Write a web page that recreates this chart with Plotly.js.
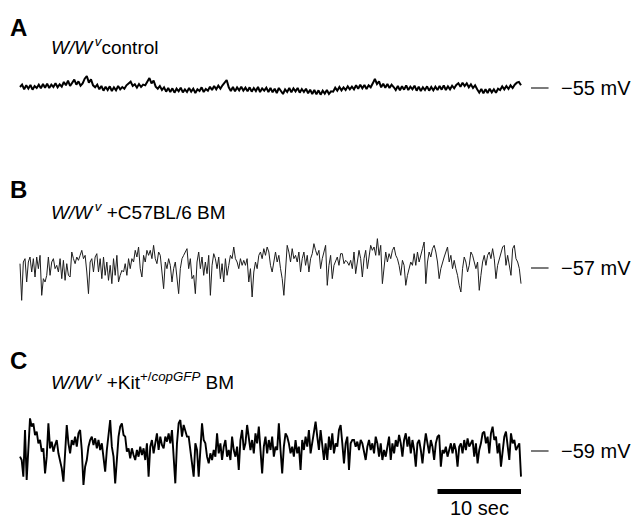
<!DOCTYPE html>
<html>
<head>
<meta charset="utf-8">
<script src="https://cdn.plot.ly/plotly-3.0.1.min.js"></script>
<style>
html,body{margin:0;padding:0;background:#fff;}
#chart{width:633px;height:518px;}
</style>
</head>
<body>
<div id="chart"></div>
<script>
// ---- Data (membrane potential, mV) ----
var panelLetters = ["A", "B", "C"];
var restingMv = [-55, -57, -59];
var sampleStepSec = [0.25, 0.2, 0.2];
var scaleBarSec = 10;

// A: W/Wv control
var ctrlMv = [
-54.85,-54.5,-55.2,-54.6,-55.1,-54.55,-55.25,-54.7,-55.0,-54.5,
-55.05,-54.4,-54.95,-54.35,-55.0,-54.5,-54.85,-54.3,-54.9,-54.45,
-54.8,-54.1,-54.6,-53.9,-54.7,-54.2,-53.75,-54.5,-54.0,-54.65,
-54.3,-53.6,-53.2,-54.2,-53.7,-54.6,-54.9,-54.5,-55.2,-54.7,
-55.4,-54.8,-55.3,-54.75,-55.45,-54.9,-55.35,-54.7,-55.2,-54.85,
-55.1,-54.6,-54.3,-54.05,-54.7,-54.45,-54.95,-54.4,-54.85,-54.5,
-54.6,-54.0,-53.5,-54.3,-53.9,-54.8,-55.1,-54.7,-55.3,-54.9,
-55.55,-55.0,-55.6,-55.05,-55.7,-55.1,-55.5,-54.95,-55.65,-55.2,
-55.6,-55.0,-55.55,-55.1,-55.75,-55.2,-55.45,-54.9,-55.6,-55.15,
-55.4,-54.8,-55.3,-54.7,-55.2,-54.65,-55.1,-54.6,-54.2,-53.8,
-54.9,-55.45,-54.85,-55.5,-54.9,-55.35,-54.8,-55.4,-54.95,-55.5,
-54.9,-55.55,-55.0,-55.45,-54.85,-55.6,-55.05,-55.4,-54.95,-55.6,
-55.0,-55.65,-55.1,-55.75,-55.0,-55.5,-55.9,-55.2,-55.6,-55.0,
-55.65,-55.05,-55.5,-55.0,-55.7,-55.15,-55.6,-55.1,-55.8,-55.25,
-55.9,-55.3,-55.95,-55.35,-56.0,-55.4,-55.85,-55.3,-55.9,-55.5,
-55.55,-54.95,-55.4,-54.85,-55.35,-54.9,-55.3,-54.75,-55.2,-54.8,
-55.2,-54.6,-55.1,-54.5,-55.05,-54.55,-55.15,-54.6,-54.9,-54.3,
-53.65,-54.4,-54.0,-54.9,-54.35,-54.95,-54.4,-55.0,-54.5,-54.85,
-55.3,-54.7,-55.35,-54.75,-55.25,-54.6,-55.3,-54.8,-55.2,-54.65,
-55.4,-54.8,-55.45,-54.9,-55.3,-54.75,-55.4,-54.85,-55.35,-54.8,
-55.3,-54.7,-55.25,-54.6,-55.3,-54.75,-55.2,-54.65,-55.05,-54.55,
-54.3,-54.8,-54.2,-54.7,-54.3,-54.9,-54.45,-55.0,-54.6,-55.2,
-55.7,-55.15,-55.8,-55.2,-55.75,-55.1,-55.65,-55.2,-55.7,-55.1,
-55.3,-54.75,-55.2,-54.7,-55.15,-54.6,-55.0,-54.5,-54.2,-54.1,
-54.6
];

// B: W/Wv + C57BL/6 BM
var c57Mv = [
-56.35,
-61.85,-56.1,-55.6,-59.1,-56.1,-55.35,-57.6,-55.6,-58.35,-55.35,
-57.1,-55.1,-61.1,-58.6,-59.1,-58.1,-55.35,-58.1,-56.1,-55.6,
-57.1,-56.6,-57.6,-55.6,-58.6,-55.85,-58.85,-56.35,-58.1,-58.35,
-54.6,-55.6,-56.35,-55.35,-55.85,-55.1,-54.35,-55.6,-55.1,-57.6,
-60.85,-56.1,-55.6,-57.6,-55.35,-54.85,-57.6,-55.6,-58.6,-55.35,
-58.1,-56.1,-58.85,-56.6,-59.35,-55.6,-58.1,-55.1,-59.1,-58.1,
-57.35,-57.6,-56.35,-58.1,-55.6,-57.1,-55.6,-56.1,-54.35,-55.35,
-53.85,-57.1,-58.35,-55.1,-56.1,-54.35,-55.1,-54.35,-55.6,-53.6,
-55.6,-56.35,-54.6,-55.1,-57.6,-60.1,-56.1,-57.1,-55.6,-56.6,
-59.1,-57.1,-56.1,-58.1,-60.85,-57.1,-55.6,-55.1,-54.6,-54.1,
-57.1,-55.6,-58.6,-58.1,-60.85,-56.1,-54.6,-57.1,-55.35,-58.1,
-56.1,-57.85,-55.1,-61.1,-56.6,-54.85,-55.6,-57.1,-55.35,-58.6,
-56.35,-59.1,-55.6,-58.1,-56.6,-55.1,-55.6,-53.85,-55.6,-56.1,
-57.1,-55.6,-56.6,-55.85,-56.6,-55.6,-59.1,-57.1,-61.35,-57.6,
-56.1,-57.1,-55.1,-54.6,-55.6,-54.1,-55.1,-53.85,-54.6,-56.6,
-57.6,-56.35,-54.6,-56.1,-55.1,-57.1,-58.6,-61.1,-57.6,-53.6,
-54.6,-56.1,-54.1,-55.6,-55.1,-56.1,-54.6,-57.6,-55.6,-54.6,
-56.6,-55.1,-57.6,-55.6,-54.85,-53.35,-54.35,-55.1,-54.35,-57.1,
-55.6,-54.35,-53.6,-59.6,-56.6,-55.1,-58.6,-56.6,-55.85,-55.35,
-56.6,-54.85,-54.85,-56.35,-55.85,-56.1,-56.6,-55.85,-57.1,
-54.6,-57.85,-56.1,-54.35,-55.6,-58.35,-55.6,-54.35,-57.1,-55.1,
-53.6,-54.35,-53.85,-55.1,-52.6,-55.1,-53.6,-59.35,-56.6,-54.6,
-56.1,-54.85,-55.6,-54.35,-53.85,-55.1,-55.6,-56.6,-58.1,-55.85,
-56.6,-59.6,-58.1,-57.1,-56.1,-56.6,-54.85,-56.6,-54.6,-56.1,
-54.85,-54.1,-53.1,-59.35,-56.1,-54.6,-55.35,-54.1,-53.6,-54.6,
-56.1,-58.6,-57.1,-56.1,-55.35,-54.6,-53.85,-56.1,-55.1,-57.1,
-55.85,-57.1,-58.1,-59.6,-60.6,-57.1,-55.35,-56.1,-57.6,-56.6,
-54.6,-55.1,-56.1,-57.1,-56.1,-60.35,-58.1,-56.1,-55.1,-56.6,
-55.1,-54.6,-55.6,-54.1,-55.6,-58.6,-56.6,-55.6,-54.6,-53.85,
-53.6,-56.6,-55.1,-56.6,-58.1,-54.1,-53.6,-55.6,-56.1,-57.1,
-59.35
];

// C: W/Wv + Kit+/copGFP BM
var kitMv = [
-59.85,
-60.35,-62.85,-55.85,-63.35,-58.85,-54.1,-55.35,-54.85,-56.6,-56.1,
-57.85,-57.35,-59.1,-58.6,-62.35,-59.85,-54.85,-58.6,-57.6,-59.1,
-58.1,-57.35,-59.35,-60.35,-61.6,-63.6,-58.35,-55.1,-57.85,-59.35,
-57.35,-58.1,-56.85,-58.35,-56.35,-55.85,-58.85,-64.1,-61.35,-60.35,
-58.35,-57.35,-56.85,-58.1,-57.1,-58.6,-57.35,-58.85,-57.85,-60.35,
-62.1,-58.85,-56.85,-54.35,-58.35,-59.85,-63.85,-59.85,-56.85,-55.35,
-54.85,-56.6,-56.85,-59.1,-58.6,-60.1,-58.6,-59.6,-60.35,-58.85,
-59.85,-58.35,-59.6,-58.6,-60.35,-57.85,-62.85,-58.35,-57.35,-59.35,
-57.85,-56.35,-58.85,-56.85,-58.1,-58.6,-56.85,-57.6,-56.35,-57.85,
-55.85,-59.35,-63.85,-57.85,-54.85,-54.35,-56.85,-55.1,-56.1,-56.85,
-56.85,-58.85,-60.35,-62.85,-57.85,-58.85,-62.85,-58.35,-54.85,-57.35,
-57.85,-59.85,-60.85,-59.35,-60.35,-58.85,-59.85,-56.35,-59.35,-57.85,
-60.35,-58.35,-57.35,-59.85,-58.85,-60.35,-56.85,-58.85,-59.85,-58.35,
-61.85,-57.35,-55.85,-58.85,-57.85,-55.1,-56.85,-58.85,-57.35,-59.35,
-56.35,-57.85,-55.35,-58.35,-62.35,-58.35,-56.85,-59.35,-57.35,-58.85,
-56.85,-59.85,-58.35,-58.85,-54.85,-58.85,-62.35,-58.35,-56.35,-56.85,
-57.85,-59.35,-58.35,-59.85,-57.35,-59.35,-58.35,-61.85,-57.35,-58.85,
-56.85,-58.35,-55.85,-59.35,-57.85,-56.35,-54.6,-56.85,-58.85,-55.85,
-58.35,-60.35,-57.85,-60.35,-56.85,-58.85,-56.35,-59.35,-57.85,-58.35,
-55.85,-55.1,-57.85,-60.85,-57.85,-56.85,-61.85,-57.85,-57.35,
-57.35,-58.35,-57.6,-58.85,-57.35,-57.85,-59.35,-60.35,-58.35,-57.35,
-58.85,-57.85,-59.35,-56.85,-57.85,-59.85,-57.85,-60.35,-58.85,-59.85,
-58.35,-56.85,-60.35,-57.85,-59.35,-57.35,-58.35,-56.6,-57.85,-59.85,
-57.35,-56.35,-58.35,-56.85,-59.35,-57.35,-58.85,-61.35,-57.85,-57.35,
-58.85,-60.85,-58.35,-56.35,-57.85,-59.35,-57.35,-58.35,-60.35,-57.85,
-56.85,-56.6,-61.35,-58.85,-59.35,-58.35,-59.85,-58.85,-57.85,-59.35,
-57.85,-58.85,-61.35,-58.35,-57.85,-59.35,-57.35,-58.85,-57.1,-58.35,
-57.85,-57.35,-59.85,-57.85,-60.85,-58.85,-57.85,-56.35,-56.1,-57.85,
-56.85,-59.35,-56.35,-55.35,-57.35,-56.85,-59.35,-57.85,-61.35,-58.85,
-56.85,-56.1,-57.85,-60.35,-56.35,-57.85,-57.35,-58.85,-58.35,-57.85,
-62.85
];

var supV = "<sup><i>\u2009v</i></sup>";
var panelTitles = [
  "<i>W/W</i>" + supV + "control",
  "<i>W/W</i>" + supV + " +C57BL/6 BM",
  "<i>W/W</i>" + supV + " +Kit<sup>+/<i>copGFP</i></sup> BM"
];
var series = [ctrlMv, c57Mv, kitMv];

// ---- Layout geometry ----
// time axis: 0 s at x=20 px, 60 s at x=521 px
var pxPerSec = 501 / 60;
var xMin = -20 / pxPerSec, xMax = (633 - 20) / pxPerSec;
// 0.15 mV per pixel on all traces; resting level pixel rows
var mvPerPx = 0.15;
var restRowPx = [88, 268, 451];
function yRange(i) {
  var top = restingMv[i] + restRowPx[i] * mvPerPx;
  return [top - 518 * mvPerPx, top];
}
var axNames = ["y", "y2", "y3"];
var colors = ["#000000", "#1e1e1e", "#000000"];
var widths = [2.0, 1.0, 1.9];

var traces = series.map(function (s, i) {
  return {
    type: "scatter", mode: "lines",
    y: s, x0: 0, dx: sampleStepSec[i],
    yaxis: axNames[i],
    line: { color: colors[i], width: widths[i] },
    hoverinfo: "skip", showlegend: false
  };
});

var font = "Liberation Sans, Arial, Helvetica, sans-serif";
var shapes = [], annotations = [];
restingMv.forEach(function (v, i) {
  shapes.push({ type: "line", xref: "x", yref: axNames[i],
    x0: 61.2, x1: 63.3, y0: v, y1: v,
    line: { color: "#333", width: 1.3 } });
  annotations.push({ xref: "x", yref: axNames[i], x: 64.6, y: v,
    xanchor: "left", yanchor: "middle", showarrow: false,
    text: "\u2212" + Math.abs(v) + " mV",
    font: { family: font, size: 20, color: "#000" } });
});
var letterRows = [27, 189, 360];
var titleRows = [46, 211, 381];
panelLetters.forEach(function (L, i) {
  annotations.push({ xref: "paper", yref: "paper", x: 8 / 633, y: 1 - letterRows[i] / 518,
    xanchor: "left", yanchor: "middle", showarrow: false,
    text: "<b>" + L + "</b>", font: { family: font, size: 24, color: "#000" } });
  annotations.push({ xref: "paper", yref: "paper", x: 49 / 633, y: 1 - titleRows[i] / 518,
    xanchor: "left", yanchor: "middle", showarrow: false,
    text: panelTitles[i], font: { family: font, size: 19, color: "#000" } });
});
// scale bar 10 s at end of trace C
var barMv = restingMv[2] - (491.5 - restRowPx[2]) * mvPerPx;
shapes.push({ type: "line", xref: "x", yref: "y3",
  x0: 60 - scaleBarSec, x1: 60, y0: barMv, y1: barMv,
  line: { color: "#000", width: 5 } });
annotations.push({ xref: "x", yref: "y3", x: 60 - scaleBarSec / 2,
  y: restingMv[2] - (508 - restRowPx[2]) * mvPerPx,
  xanchor: "center", yanchor: "middle", showarrow: false,
  text: scaleBarSec + " sec", font: { family: font, size: 20, color: "#000" } });

function hiddenY(i, extra) {
  var o = { range: yRange(i), visible: false, fixedrange: true };
  for (var k in extra) o[k] = extra[k];
  return o;
}
var layout = {
  width: 633, height: 518,
  margin: { l: 0, r: 0, t: 0, b: 0 },
  paper_bgcolor: "#fff", plot_bgcolor: "#fff",
  xaxis: { range: [xMin, xMax], visible: false, fixedrange: true },
  yaxis: hiddenY(0, {}),
  yaxis2: hiddenY(1, { overlaying: "y" }),
  yaxis3: hiddenY(2, { overlaying: "y" }),
  shapes: shapes, annotations: annotations,
  showlegend: false
};
Plotly.newPlot("chart", traces, layout, { displayModeBar: false });
</script>
</body>
</html>
